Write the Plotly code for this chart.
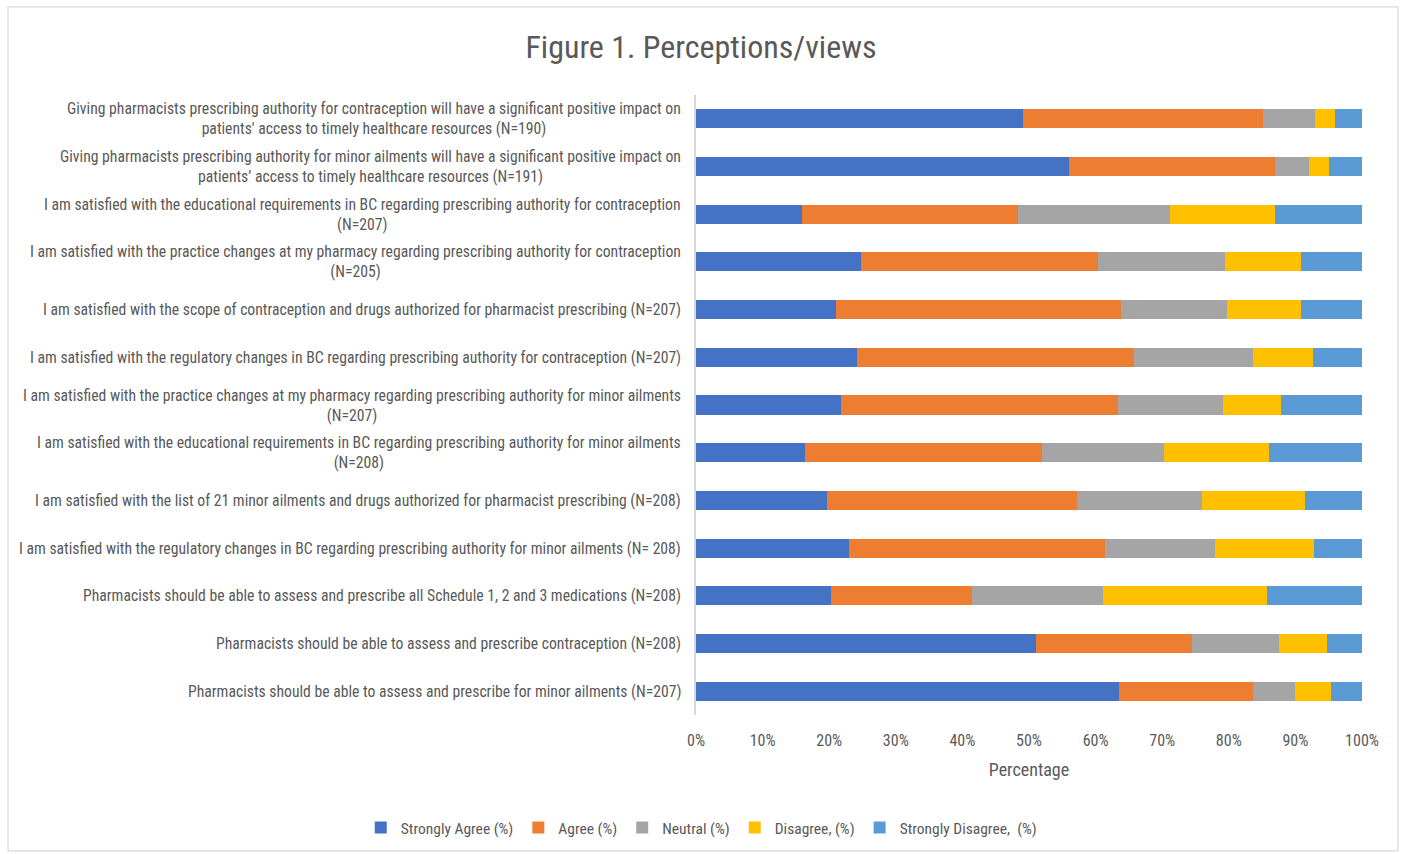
import plotly.graph_objects as go

categories = [
    "Giving pharmacists prescribing authority for contraception will have a significant positive impact on<br>patients' access to timely healthcare resources (N=190)",
    "Giving pharmacists prescribing authority for minor ailments will have a significant positive impact on<br>patients’ access to timely healthcare resources (N=191)",
    "I am satisfied with the educational requirements in BC regarding prescribing authority for contraception<br>(N=207)",
    "I am satisfied with the practice changes at my pharmacy regarding prescribing authority for contraception<br>(N=205)",
    "I am satisfied with the scope of contraception and drugs authorized for pharmacist prescribing (N=207)",
    "I am satisfied with the regulatory changes in BC regarding prescribing authority for contraception (N=207)",
    "I am satisfied with the practice changes at my pharmacy regarding prescribing authority for minor ailments<br>(N=207)",
    "I am satisfied with the educational requirements in BC regarding prescribing authority for minor ailments<br>(N=208)",
    "I am satisfied with the list of 21 minor ailments and drugs authorized for pharmacist prescribing (N=208)",
    "I am satisfied with the regulatory changes in BC regarding prescribing authority for minor ailments (N= 208)",
    "Pharmacists should be able to assess and prescribe all Schedule 1, 2 and 3 medications (N=208)",
    "Pharmacists should be able to assess and prescribe contraception (N=208)",
    "Pharmacists should be able to assess and prescribe for minor ailments (N=207)",
]

strongly_agree = [49.1, 56.0, 15.9, 24.8, 21.0, 24.2, 21.7, 16.4, 19.7, 23.0, 20.3, 51.1, 63.5]
agree = [36.0, 31.0, 32.5, 35.6, 42.8, 41.6, 41.6, 35.5, 37.5, 38.4, 21.1, 23.3, 20.2]
neutral = [7.9, 5.0, 22.7, 19.0, 15.9, 17.8, 15.9, 18.3, 18.8, 16.5, 19.7, 13.1, 6.2]
disagree = [3.0, 3.0, 15.9, 11.4, 11.2, 9.1, 8.7, 15.9, 15.4, 14.9, 24.6, 7.3, 5.4]
strongly_disagree = [4.0, 5.0, 13.0, 9.2, 9.1, 7.3, 12.1, 13.9, 8.6, 7.2, 14.3, 5.2, 4.7]

series_names = ["Strongly Agree (%)", "Agree (%)", "Neutral (%)", "Disagree, (%)", "Strongly Disagree,  (%)"]
series_values = [strongly_agree, agree, neutral, disagree, strongly_disagree]
series_colors = ["#4472C4", "#ED7D31", "#A5A5A5", "#FFC000", "#5B9BD5"]

x_ticks = [0, 10, 20, 30, 40, 50, 60, 70, 80, 90, 100]
x_tick_labels = [f"{v}%" for v in x_ticks]

FONT = "Liberation Sans Narrow, Arial Narrow, Roboto Condensed, Lato, sans-serif"
TXT = "#595959"

fig = go.Figure()
for name, vals, col in zip(series_names, series_values, series_colors):
    fig.add_trace(go.Bar(
        y=categories, x=vals, name=name, orientation="h",
        marker=dict(color=col, line=dict(width=0)),
    ))

annotations = []
for cat in categories:
    annotations.append(dict(
        x=-0.02, xref="paper", y=cat, yref="y", text=cat, showarrow=False,
        xanchor="right", yanchor="middle", align="center",
        font=dict(family=FONT, size=15.7, color=TXT),
    ))

fig.update_layout(
    width=1401, height=854,
    barmode="stack", bargap=0.6,
    paper_bgcolor="white", plot_bgcolor="white",
    margin=dict(l=695.5, r=39, t=95, b=139, autoexpand=False),
    title=dict(text="Figure 1. Perceptions/views", x=701 / 1401, xref="container", y=1 - 47 / 854,
               yref="container", yanchor="middle", xanchor="center",
               font=dict(family=FONT, size=32, color=TXT)),
    font=dict(family=FONT, color=TXT),
    xaxis=dict(range=[0, 100], tickvals=x_ticks, ticktext=x_tick_labels, showgrid=False,
               zeroline=False, showline=False, ticks="outside", ticklen=11, tickcolor="rgba(0,0,0,0)",
               tickfont=dict(size=16, color=TXT),
               title=dict(text="Percentage", font=dict(size=18, color=TXT), standoff=14)),
    yaxis=dict(autorange="reversed", showticklabels=False, showgrid=False, zeroline=False,
               showline=True, linecolor="#D9D9D9", linewidth=1.5, ticks=""),
    legend=dict(orientation="h", xref="paper", x=(360 - 695.5) / 666.5, xanchor="left",
                yref="paper", y=(715 - 828) / 620, yanchor="middle",
                font=dict(size=15.5, color=TXT), traceorder="normal", itemwidth=30,
                bgcolor="rgba(0,0,0,0)"),
    annotations=annotations,
    shapes=[dict(type="rect", xref="paper", yref="paper", x0=-1.033, x1=1.054, y0=-0.219, y1=1.142,
                 line=dict(color="#D9D9D9", width=1.2), fillcolor="rgba(0,0,0,0)", layer="below")],
    showlegend=True,
)

fig.write_html("out.html")
